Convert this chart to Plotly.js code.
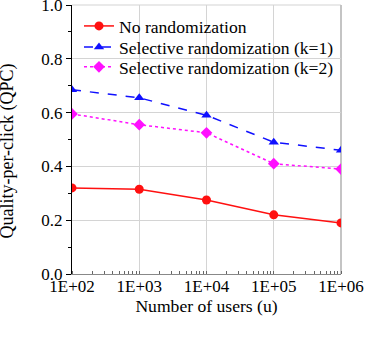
<!DOCTYPE html>
<html>
<head>
<meta charset="utf-8">
<script src="https://cdn.plot.ly/plotly-3.0.1.min.js"></script>
<style>
  body { margin: 0; background: #fff; }
  #myDiv { width: 383px; height: 347px; }
</style>
</head>
<body>
<div id="myDiv"></div>
<script>
var users = [1e2, 1e3, 1e4, 1e5, 1e6];
var tickText = ['1E+02', '1E+03', '1E+04', '1E+05', '1E+06'];
var yTicks = [0, 0.2, 0.4, 0.6, 0.8, 1.0];
var noRandom = [0.32, 0.315, 0.275, 0.22, 0.19];
var selectiveK1 = [0.685, 0.655, 0.59, 0.49, 0.46];
var selectiveK2 = [0.595, 0.555, 0.525, 0.41, 0.39];

var font = 'Liberation Serif';

var trace1 = {
  x: users, y: noRandom,
  name: 'No randomization',
  type: 'scatter', mode: 'lines+markers',
  line: {color: '#ff1010', width: 1.5},
  marker: {symbol: 'circle', size: 9, color: '#ff1010'},
  legend: 'legend'
};

var trace2 = {
  x: users, y: selectiveK1,
  name: 'Selective randomization (k=1)',
  type: 'scatter', mode: 'lines+markers',
  line: {color: '#1010ff', width: 1.5, dash: 'dash'},
  marker: {symbol: 'triangle-up', size: 9, color: '#1010ff'},
  legend: 'legend2'
};

var trace3 = {
  x: users, y: selectiveK2,
  name: 'Selective randomization (k=2)',
  type: 'scatter', mode: 'lines+markers',
  line: {color: '#ff10ff', width: 1.5, dash: 'dot'},
  marker: {symbol: 'diamond', size: 9, color: '#ff10ff'},
  legend: 'legend3'
};

var data = [trace1, trace2, trace3];

function legendAt(y) {
  return {
    x: 0.026, y: y, xanchor: 'left', yanchor: 'middle',
    bgcolor: 'rgba(0,0,0,0)', borderwidth: 0,
    font: {family: font, size: 17.6, color: '#000'},
    itemwidth: 30
  };
}

var layout = {
  width: 383, height: 347,
  margin: {l: 72, r: 42, t: 5, b: 73},
  paper_bgcolor: '#fff', plot_bgcolor: '#fff',
  font: {family: font, size: 17, color: '#000'},
  showlegend: true,
  legend: legendAt(0.922),
  legend2: legendAt(0.844),
  legend3: legendAt(0.770),
  xaxis: {
    type: 'log', range: [2, 6],
    tickvals: users, ticktext: tickText,
    ticks: '',
    ticklabelstandoff: -3,
    tickfont: {family: font, size: 17, color: '#000'},
    showgrid: true, gridcolor: '#d4d4d4', gridwidth: 1.2,
    showline: true, linecolor: '#888', linewidth: 1,
    zeroline: false,
    minor: {dtick: 'D1', ticks: 'inside', ticklen: 3, tickcolor: '#666', showgrid: false},
    title: {text: 'Number of users (u)', font: {family: font, size: 17.6, color: '#000'}, standoff: 0},
    automargin: false
  },
  yaxis: {
    range: [0, 1], tickvals: yTicks, tickformat: '.1f',
    ticks: 'outside', ticklen: 5, tickcolor: '#000',
    ticklabeloverflow: 'allow',
    tickfont: {family: font, size: 17, color: '#000'},
    showgrid: true, gridcolor: '#d4d4d4', gridwidth: 1.2,
    showline: true, linecolor: '#000', linewidth: 1.2,
    zeroline: false,
    minor: {dtick: 0.1, ticks: 'outside', ticklen: 3, tickcolor: '#000', showgrid: false},
    automargin: false
  },
  shapes: [
    {type: 'line', xref: 'paper', yref: 'paper', x0: 0, x1: 1, y0: 1, y1: 1,
     line: {color: '#d4d4d4', width: 1.2}, layer: 'below'},
    {type: 'line', xref: 'paper', yref: 'paper', x0: 1, x1: 1, y0: 0, y1: 1,
     line: {color: '#c4c4c4', width: 2}, layer: 'below'}
  ],
  annotations: [{
    text: 'Quality-per-click (QPC)',
    xref: 'paper', yref: 'paper',
    x: -0.24, y: 0.457,
    xanchor: 'center', yanchor: 'middle',
    textangle: -90, showarrow: false,
    font: {family: font, size: 18, color: '#000'}
  }]
};

Plotly.newPlot('myDiv', data, layout, {displayModeBar: false});
</script>
</body>
</html>
